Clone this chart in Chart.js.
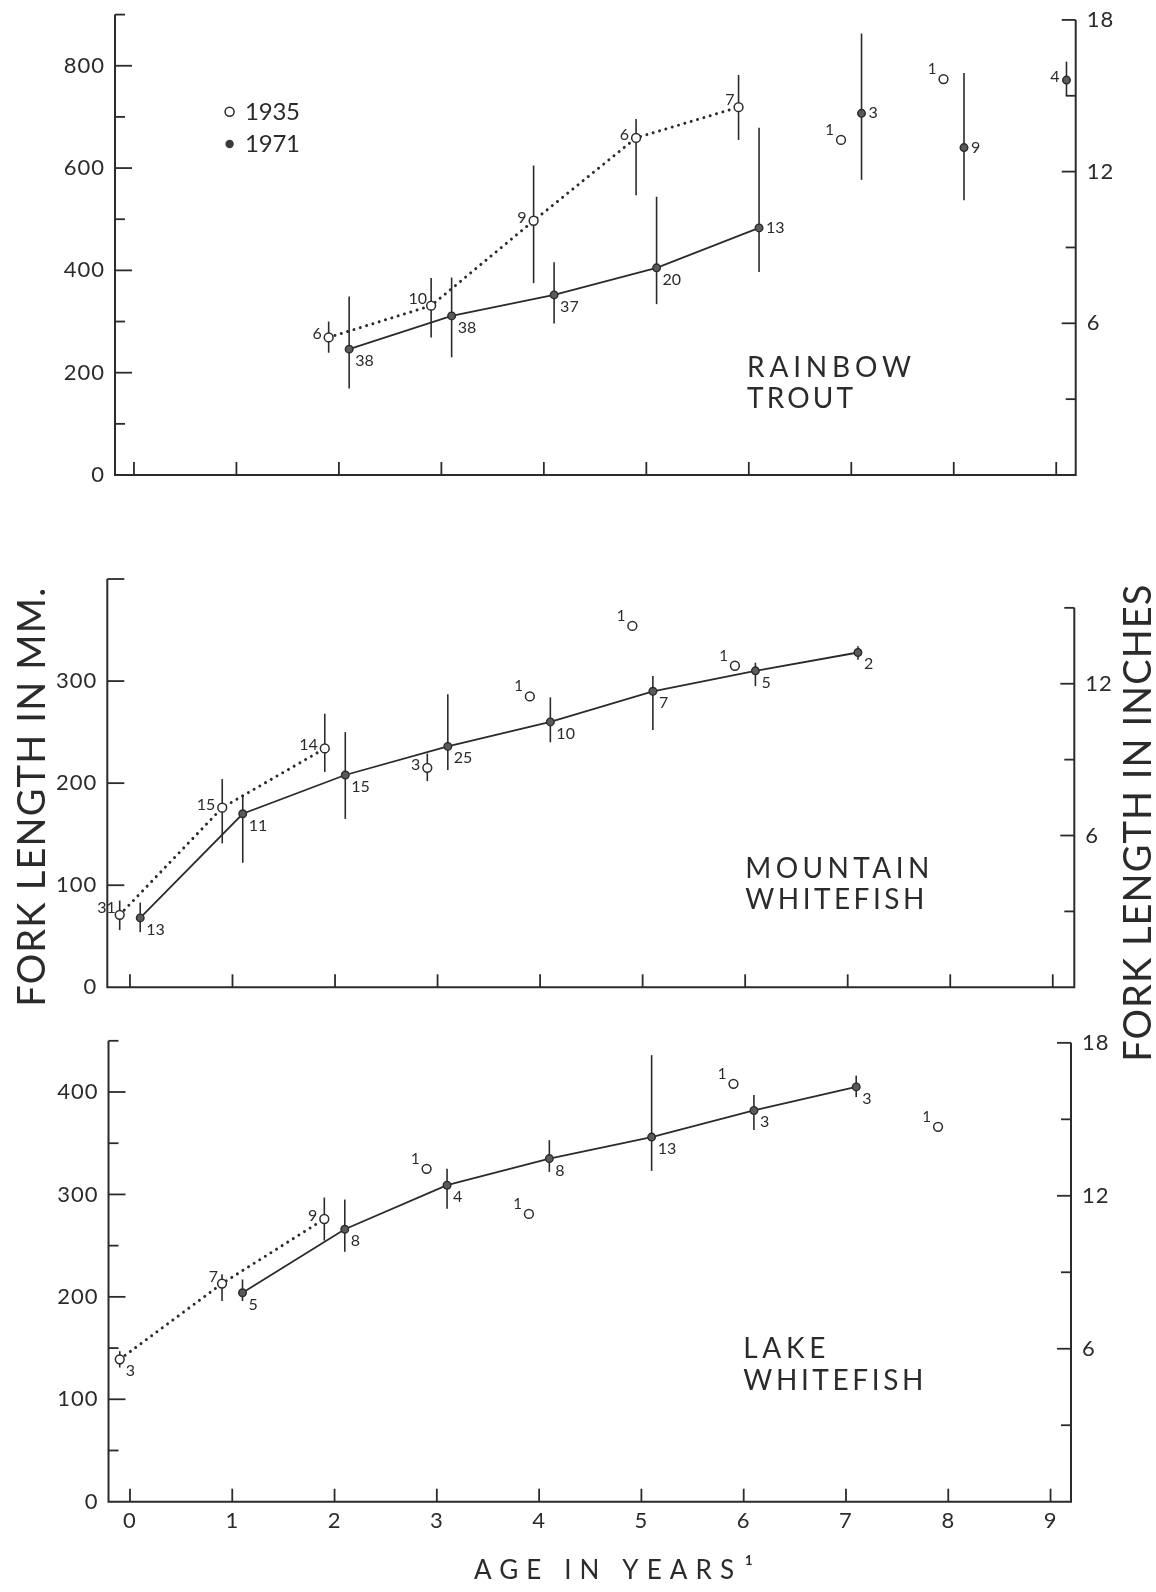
<!DOCTYPE html>
<html><head><meta charset="utf-8">
<script src="https://cdn.jsdelivr.net/npm/chart.js@4.4.1/dist/chart.umd.min.js"></script>
<style>
html,body{margin:0;padding:0;background:#fff;}
#wrap{position:relative;width:1156px;height:1592px;overflow:hidden;background:#fff;}
canvas{position:absolute;left:0;top:0;}
</style></head><body><div id="wrap">
<canvas id="c1" width="1156" height="1592"></canvas>
<canvas id="c2" width="1156" height="1592"></canvas>
<canvas id="c3" width="1156" height="1592"></canvas>
</div>
<script>
// ---------------- DATA ----------------
const ageTicks = [0,1,2,3,4,5,6,7,8,9];

// Rainbow trout (mm)
const rtAge35 = [1.9, 2.9, 3.9, 4.9, 5.9];
const rtMean35 = [269, 331, 497, 659, 719];
const rtLo35 = [239, 269, 375, 547, 655];
const rtHi35 = [300, 385, 605, 696, 782];
const rtN35 = ['6','10','9','6','7'];
const rtAge35single = [6.9, 7.9];
const rtMean35single = [655, 774];
const rtN35single = ['1','1'];
const rtAge71 = [2.1, 3.1, 4.1, 5.1, 6.1];
const rtMean71 = [246, 311, 352, 405, 483];
const rtLo71 = [169, 230, 296, 334, 397];
const rtHi71 = [349, 386, 416, 544, 679];
const rtN71 = ['38','38','37','20','13'];
const rtAge71sep = [7.1, 8.1, 9.1];
const rtMean71sep = [707, 640, 772];
const rtLo71sep = [577, 537, 741];
const rtHi71sep = [863, 786, 808];
const rtN71sep = ['3','9','4'];
const rtMmTicks = [0,100,200,300,400,500,600,700,800,900];
const rtMmLabels = [0,200,400,600,800];
const rtInTicks = [0,3,6,9,12,15,18];
const rtInLabels = [6,12,18];

// Mountain whitefish (mm)
const mwAge35 = [-0.1, 0.9, 1.9];
const mwMean35 = [71, 176, 234];
const mwLo35 = [56, 141, 211];
const mwHi35 = [85, 204, 268];
const mwN35 = ['31','15','14'];
const mwAge35sep = [2.9];
const mwMean35sep = [215];
const mwLo35sep = [202];
const mwHi35sep = [229];
const mwN35sep = ['3'];
const mwAge35single = [3.9, 4.9, 5.9];
const mwMean35single = [285, 354, 315];
const mwN35single = ['1','1','1'];
const mwAge71 = [0.1, 1.1, 2.1, 3.1, 4.1, 5.1, 6.1, 7.1];
const mwMean71 = [68, 170, 208, 236, 260, 290, 310, 328];
const mwLo71 = [54, 122, 165, 213, 240, 252, 295, 321];
const mwHi71 = [83, 188, 250, 287, 284, 305, 318, 334];
const mwN71 = ['13','11','15','25','10','7','5','2'];
const mwMmTicks = [0,100,200,300,400];
const mwMmLabels = [0,100,200,300];
const mwInTicks = [0,3,6,9,12,15];
const mwInLabels = [6,12];

// Lake whitefish (mm)
const lwAge35 = [-0.1, 0.9, 1.9];
const lwMean35 = [139, 213, 276];
const lwLo35 = [131, 196, 255];
const lwHi35 = [147, 222, 297];
const lwN35 = ['3','7','9'];
const lwAge35single = [2.9, 3.9, 5.9, 7.9];
const lwMean35single = [325, 281, 408, 366];
const lwN35single = ['1','1','1','1'];
const lwAge71 = [1.1, 2.1, 3.1, 4.1, 5.1, 6.1, 7.1];
const lwMean71 = [204, 266, 309, 335, 356, 382, 405];
const lwLo71 = [196, 244, 286, 322, 323, 363, 395];
const lwHi71 = [217, 295, 325, 353, 436, 397, 416];
const lwN71 = ['5','8','4','8','13','3','3'];
const lwMmTicks = [0,50,100,150,200,250,300,350,400,450];
const lwMmLabels = [0,100,200,300,400];
const lwInTicks = [0,3,6,9,12,15,18];
const lwInLabels = [6,12,18];

// label placement codes (not data)
const rtPos35 = ['l','ul','l','l','ul'];
const rtPos71 = ['lr','lr','lr','lr','r'];
const rtPos71sep = ['r','r','l'];
const mwPos35 = ['ul','l','l'];
const mwPos35sep = ['l'];
const lwPos35 = ['lr','ul','l'];

// ---------------- STYLE / LAYOUT ----------------
const W = 1156, H = 1592;
const INK = '#2b2b2b';
const FONT = "Lato, 'DejaVu Sans', sans-serif";
const OFF = {
  l:  {dx:-7, dy:2,  align:'right'},
  ul: {dx:-4, dy:-2, align:'right'},
  r:  {dx:7,  dy:5,  align:'left'},
  lr: {dx:6,  dy:17, align:'left'},
  s:  {dx:-7, dy:-5, align:'right'}
};

function pts(xs, ys){ return xs.map((x,i)=>({x:x, y:ys[i]})); }
function fill(arr, v){ return arr.map(()=>v); }

function ds35(xs, ys, extra){
  return Object.assign({
    data: pts(xs, ys), xAxisID:'x', yAxisID:'y',
    showLine:true, borderColor:INK, borderWidth:3, borderDash:[0.01,6.6], borderCapStyle:'round',
    pointRadius:4.4, pointBackgroundColor:'#ffffff', pointBorderColor:INK, pointBorderWidth:1.5,
    fill:false, tension:0, order:1
  }, extra);
}
function ds71(xs, ys, extra){
  return Object.assign({
    data: pts(xs, ys), xAxisID:'x', yAxisID:'y',
    showLine:true, borderColor:INK, borderWidth:1.8,
    pointRadius:3.8, pointBackgroundColor:'#5a5a5a', pointBorderColor:INK, pointBorderWidth:1.4,
    fill:false, tension:0, order:2
  }, extra);
}

function fitText(ctx, text, x, y, width, size){
  ctx.font = size + 'px ' + FONT;
  ctx.letterSpacing = '0px';
  const w0 = ctx.measureText(text).width;
  const n = text.length;
  const ls = n > 1 ? (width - w0) / (n - 1) : 0;
  ctx.letterSpacing = ls.toFixed(2) + 'px';
  ctx.textAlign = 'left'; ctx.textBaseline = 'alphabetic';
  ctx.fillText(text, x, y);
  ctx.letterSpacing = '0px';
}

function seg(ctx, x1, y1, x2, y2){ ctx.beginPath(); ctx.moveTo(x1,y1); ctx.lineTo(x2,y2); ctx.stroke(); }

function panelPlugin(p){
  return {
    id: 'panel_' + p.name,
    beforeDraw(chart){ chart.ctx.letterSpacing = '1px'; },
    beforeDatasetsDraw(chart){
      const ctx = chart.ctx, a = chart.chartArea, sx = chart.scales.x, sy = chart.scales.y, sr = chart.scales.yR;
      ctx.save();
      ctx.letterSpacing = '0px';
      ctx.strokeStyle = INK; ctx.lineWidth = 2; ctx.lineCap = 'butt';
      const rTop = sr.getPixelForValue(p.inTicks[p.inTicks.length-1]);
      ctx.beginPath();
      ctx.moveTo(a.left, a.top); ctx.lineTo(a.left, a.bottom);
      ctx.lineTo(a.right, a.bottom); ctx.lineTo(a.right, rTop);
      ctx.stroke();
      ctx.lineWidth = 1.8;
      p.mmTicks.forEach(v => {
        if (v === 0) return;
        const yy = sy.getPixelForValue(v);
        const len = (p.mmLabels.includes(v) || v === p.mmMajorTop) ? 17 : 10;
        seg(ctx, a.left, yy, a.left + len, yy);
      });
      p.inTicks.forEach(v => {
        if (v === 0) return;
        const yy = sr.getPixelForValue(v);
        const len = p.inLabels.includes(v) ? 14 : 10;
        seg(ctx, a.right - len, yy, a.right, yy);
      });
      ageTicks.forEach(v => {
        const xx = sx.getPixelForValue(v);
        seg(ctx, xx, a.bottom, xx, a.bottom - 13);
      });
      // error bars
      ctx.lineWidth = 1.6;
      chart.data.datasets.forEach((d, i) => {
        if (!d.errLo) return;
        const meta = chart.getDatasetMeta(i);
        meta.data.forEach((el, j) => {
          seg(ctx, el.x, sy.getPixelForValue(d.errLo[j]), el.x, sy.getPixelForValue(d.errHi[j]));
        });
      });
      ctx.restore();
    },
    afterDatasetsDraw(chart){
      const ctx = chart.ctx;
      ctx.save();
      ctx.letterSpacing = '0px';
      ctx.fillStyle = INK;
      chart.data.datasets.forEach((d, i) => {
        if (!d.nLabels) return;
        const meta = chart.getDatasetMeta(i);
        meta.data.forEach((el, j) => {
          const code = d.labelPos ? d.labelPos[j] : 's';
          const o = OFF[code];
          ctx.font = (code === 's' ? 15 : 16) + 'px ' + FONT;
          ctx.textAlign = o.align; ctx.textBaseline = 'alphabetic';
          ctx.fillText(d.nLabels[j], el.x + o.dx, el.y + o.dy);
        });
      });
      if (p.extra) p.extra(ctx);
      ctx.restore();
    }
  };
}

function makePanel(id, p){
  const tickFont = {family: FONT, size: 22};
  const zeroPad = s => { s.paddingTop = 0; s.paddingBottom = 0; s.paddingLeft = 0; s.paddingRight = 0; };
  return new Chart(document.getElementById(id), {
    type: 'line',
    data: { datasets: p.datasets },
    options: {
      responsive: false, animation: false, devicePixelRatio: 1, events: [],
      layout: { padding: { top: p.top, bottom: p.showX ? 0 : H - p.bottom, left: 0, right: 0 } },
      plugins: { legend: {display:false}, tooltip: {enabled:false}, title: {display:false} },
      scales: {
        x: {
          type:'linear', position:'bottom', min:p.xMin, max:p.xMax,
          grid:{display:false, drawTicks:false}, border:{display:false},
          ticks:{display:p.showX, padding:6, font:tickFont, color:INK, autoSkip:false, maxRotation:0,
                 callback: v => String(v)},
          afterBuildTicks: s => { s.ticks = ageTicks.map(v => ({value:v})); },
          afterFit: s => { s.height = p.showX ? H - p.bottom : 0; zeroPad(s); }
        },
        y: {
          type:'linear', position:'left', min:0, max:p.yMax,
          grid:{display:false, drawTicks:false}, border:{display:false},
          ticks:{padding:10, font:tickFont, color:INK, autoSkip:false,
                 callback: v => p.mmLabels.includes(v) ? String(v) : ''},
          afterBuildTicks: s => { s.ticks = p.mmTicks.map(v => ({value:v})); },
          afterFit: s => { s.width = p.left; zeroPad(s); }
        },
        yR: {
          type:'linear', position:'right', min:0, max:p.rMax,
          grid:{display:false, drawTicks:false}, border:{display:false},
          ticks:{padding:11, font:tickFont, color:INK, autoSkip:false,
                 callback: v => p.inLabels.includes(v) ? String(v) : ''},
          afterBuildTicks: s => { s.ticks = p.inTicks.map(v => ({value:v})); },
          afterFit: s => { s.width = W - p.right; zeroPad(s); }
        }
      }
    },
    plugins: [panelPlugin(p)]
  });
}

// ---------------- PANELS ----------------
makePanel('c1', {
  name:'rt', top:14.6, bottom:475, left:115, right:1075.7,
  xMin:-0.185, xMax:9.19, yMax:900, rMax:18.21, showX:false,
  mmTicks:rtMmTicks, mmLabels:rtMmLabels, inTicks:rtInTicks, inLabels:rtInLabels,
  datasets: [
    ds35(rtAge35, rtMean35, {errLo:rtLo35, errHi:rtHi35, nLabels:rtN35, labelPos:rtPos35}),
    ds35(rtAge35single, rtMean35single, {showLine:false, nLabels:rtN35single, labelPos:fill(rtN35single,'s')}),
    ds71(rtAge71, rtMean71, {errLo:rtLo71, errHi:rtHi71, nLabels:rtN71, labelPos:rtPos71}),
    ds71(rtAge71sep, rtMean71sep, {showLine:false, errLo:rtLo71sep, errHi:rtHi71sep, nLabels:rtN71sep, labelPos:rtPos71sep})
  ],
  extra: ctx => {
    // legend
    ctx.lineWidth = 1.5; ctx.strokeStyle = INK;
    ctx.beginPath(); ctx.arc(229.6, 111.7, 4.5, 0, Math.PI*2); ctx.fillStyle = '#fff'; ctx.fill(); ctx.stroke();
    ctx.beginPath(); ctx.arc(229.6, 144, 4.2, 0, Math.PI*2); ctx.fillStyle = '#3a3a3a'; ctx.fill();
    ctx.fillStyle = INK;
    fitText(ctx, '1935', 245, 120, 55, 24);
    fitText(ctx, '1971', 245, 152, 55, 24);
    fitText(ctx, 'RAINBOW', 747, 377, 164, 28);
    fitText(ctx, 'TROUT', 747, 408, 106, 28);
  }
});

makePanel('c2', {
  name:'mw', top:579, bottom:987.3, left:107.3, right:1074.3,
  xMin:-0.221, xMax:9.21, yMax:400, rMax:16.14, showX:false, mmMajorTop:400,
  mmTicks:mwMmTicks, mmLabels:mwMmLabels, inTicks:mwInTicks, inLabels:mwInLabels,
  datasets: [
    ds35(mwAge35, mwMean35, {errLo:mwLo35, errHi:mwHi35, nLabels:mwN35, labelPos:mwPos35}),
    ds35(mwAge35sep, mwMean35sep, {showLine:false, errLo:mwLo35sep, errHi:mwHi35sep, nLabels:mwN35sep, labelPos:mwPos35sep}),
    ds35(mwAge35single, mwMean35single, {showLine:false, nLabels:mwN35single, labelPos:fill(mwN35single,'s')}),
    ds71(mwAge71, mwMean71, {errLo:mwLo71, errHi:mwHi71, nLabels:mwN71, labelPos:fill(mwN71,'lr')})
  ],
  extra: ctx => {
    ctx.fillStyle = INK;
    fitText(ctx, 'MOUNTAIN', 745.3, 878, 184, 28);
    fitText(ctx, 'WHITEFISH', 745.3, 908.5, 179, 28);
  }
});

makePanel('c3', {
  name:'lw', top:1040.8, bottom:1501.7, left:108.5, right:1071,
  xMin:-0.21, xMax:9.2, yMax:450, rMax:18.08, showX:true,
  mmTicks:lwMmTicks, mmLabels:lwMmLabels, inTicks:lwInTicks, inLabels:lwInLabels,
  datasets: [
    ds35(lwAge35, lwMean35, {errLo:lwLo35, errHi:lwHi35, nLabels:lwN35, labelPos:lwPos35}),
    ds35(lwAge35single, lwMean35single, {showLine:false, nLabels:lwN35single, labelPos:fill(lwN35single,'s')}),
    ds71(lwAge71, lwMean71, {errLo:lwLo71, errHi:lwHi71, nLabels:lwN71, labelPos:fill(lwN71,'lr')})
  ],
  extra: ctx => {
    ctx.fillStyle = INK;
    fitText(ctx, 'LAKE', 743.3, 1357.5, 82, 28);
    fitText(ctx, 'WHITEFISH', 743.3, 1390.3, 180, 28);
    // x-axis title
    fitText(ctx, 'AGE IN YEARS', 474, 1578.5, 260, 26);
    ctx.font = 'bold 13px ' + FONT; ctx.textAlign = 'left';
    ctx.fillText('1', 745, 1565);
    // left axis title (rotated)
    ctx.save();
    ctx.translate(45, 1006.7); ctx.rotate(-Math.PI/2);
    fitText(ctx, 'FORK LENGTH IN MM.', 0, 0, 419, 38);
    ctx.restore();
    // right axis title (rotated)
    ctx.save();
    ctx.translate(1151, 1061.7); ctx.rotate(-Math.PI/2);
    fitText(ctx, 'FORK LENGTH IN INCHES', 0, 0, 477, 38);
    ctx.restore();
  }
});
</script>
</body></html>
